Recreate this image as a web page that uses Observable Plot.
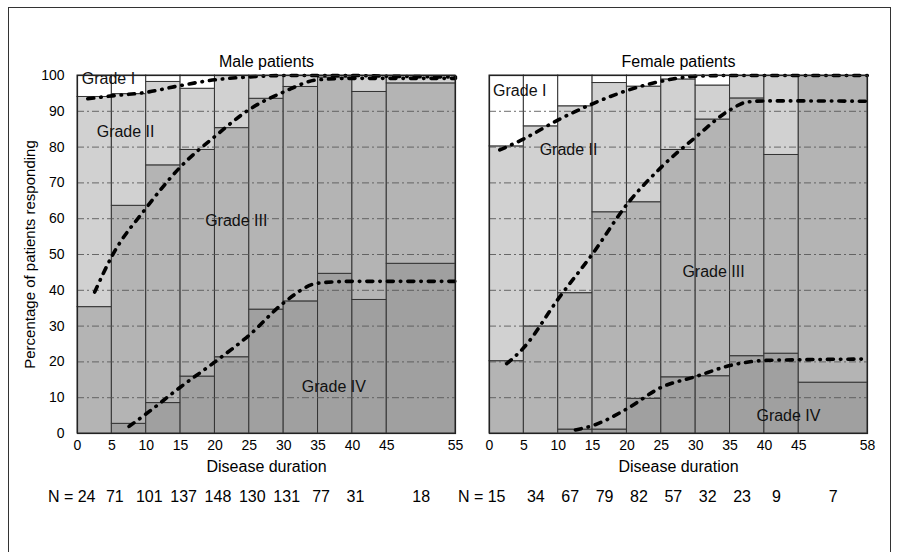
<!DOCTYPE html>
<html><head><meta charset="utf-8">
<script src="https://cdn.jsdelivr.net/npm/d3@7"></script>
<script src="https://cdn.jsdelivr.net/npm/@observablehq/plot@0.6"></script>
<style>
body{margin:0;background:#fff;font-family:"Liberation Sans",Arial,sans-serif;}
#wrap{position:relative;width:898px;height:552px;overflow:hidden;background:#fff;}
#border{position:absolute;left:8px;top:7px;width:883px;height:620px;border:1px solid #333;box-sizing:border-box;}
#male{position:absolute;left:0;top:0;}
#female{position:absolute;left:470px;top:0;}
</style></head>
<body><div id="wrap"><div id="border"></div><div id="male"></div><div id="female"></div></div>
<script>
// ---- data ----
const binEdges = [0, 5, 10, 15, 20, 25, 30, 35, 40, 45, 55];
const maleTickLabels = ["0","5","10","15","20","25","30","35","40","45","55"];
const femaleTickLabels = ["0","5","10","15","20","25","30","35","40","45","58"];
const yTicks = [0, 10, 20, 30, 40, 50, 60, 70, 80, 90, 100];
const grades = ["Grade I", "Grade II", "Grade III", "Grade IV"];

// percentage of patients per grade, per duration bin
const maleGradeIV  = [0, 2.7, 8.5, 15.9, 21.3, 34.6, 36.9, 44.6, 37.3, 47.4];
const maleGradeIII = [35.3, 60.9, 66.4, 63.3, 64.0, 58.9, 59.9, 54.8, 58.1, 50.4];
const maleGradeII  = [58.7, 31.2, 23.3, 17.1, 14.7, 6.5, 3.2, 0.6, 4.6, 2.2];
const maleGradeI   = [6.0, 5.2, 1.8, 3.7, 0, 0, 0, 0, 0, 0];

const femaleGradeIV  = [0, 0, 1.1, 1.1, 9.7, 15.7, 16.0, 21.6, 22.3, 14.2];
const femaleGradeIII = [20.2, 29.9, 38.1, 60.7, 54.9, 63.5, 71.7, 72.0, 55.5, 85.8];
const femaleGradeII  = [60.0, 55.9, 52.2, 36.1, 32.3, 19.7, 9.5, 6.4, 22.2, 0];
const femaleGradeI   = [19.8, 14.2, 8.6, 2.1, 3.1, 1.1, 2.8, 0, 0, 0];

const maleN   = [24, 71, 101, 137, 148, 130, 131, 77, 31, 18];
const femaleN = [15, 34, 67, 79, 82, 57, 32, 23, 9, 7];

// fitted (dash-dot) curves: cumulative boundaries
const maleFitI   = [[1.5,93.5],[5,94.3],[10,95.3],[15,97.2],[20,98.8],[25,99.6],[30,100],[35,100],[40,100],[45,99.8],[55,99.6]];
const maleFitII  = [[2.5,39.5],[5,49.5],[10,63],[15,74.5],[20,83],[25,90.5],[30,95.4],[35,98.8],[40,99.2],[45,99.2],[55,99.2]];
const maleFitIII = [[7.5,2],[10,5.5],[15,13],[20,20],[25,27.5],[30,36.5],[35,42],[40,42.5],[45,42.5],[55,42.5]];

const femaleFitI   = [[1.5,79.2],[5,82.3],[10,87.6],[15,92.1],[20,95.8],[25,98.4],[30,99.8],[35,100],[45,100],[55,100]];
const femaleFitII  = [[2.5,19.5],[5,24],[10,37.6],[15,50.2],[20,64],[25,74.4],[30,82.8],[35,90.4],[37.5,92.6],[40,92.9],[45,92.9],[55,92.8]];
const femaleFitIII = [[12.5,1],[15,2.2],[20,6.9],[25,12.9],[30,15.9],[35,19],[40,20.4],[45,20.6],[55,20.8]];

// label annotations (data coordinates)
const maleLabels = [
  {x: 4.5, y: 99, text: "Grade I"},
  {x: 7.0, y: 84.2, text: "Grade II"},
  {x: 23.1, y: 59.5, text: "Grade III"},
  {x: 37.3, y: 12.9, text: "Grade IV"}
];
const femaleLabels = [
  {x: 4.4, y: 95.6, text: "Grade I"},
  {x: 11.5, y: 79.2, text: "Grade II"},
  {x: 32.6, y: 45.1, text: "Grade III"},
  {x: 43.5, y: 5.0, text: "Grade IV"}
];

// ---- drawing ----
const gradeColors = ["#ffffff", "#d1d1d1", "#b4b4b4", "#a0a0a0"];
const FONT = "Liberation Sans, Arial, Helvetica, sans-serif";

function buildRects(I, II, III, IV) {
  const out = [];
  for (let i = 0; i < binEdges.length - 1; i++) {
    let cum = 0;
    const stack = [["Grade IV", IV[i]], ["Grade III", III[i]], ["Grade II", II[i]], ["Grade I", I[i]]];
    for (const [g, v] of stack) {
      if (v > 0) out.push({x1: binEdges[i], x2: binEdges[i + 1], y1: cum, y2: cum + v, grade: g});
      cum += v;
    }
  }
  return out;
}

function panel(opts) {
  const {rects, fits, labels, tickLabels, ns, nDx, firstDx, title, showY, width, marginLeft, marginRight} = opts;
  const labelMap = new Map(binEdges.map((d, i) => [d, tickLabels[i]]));
  const nData = ns.map((n, i) => {
    const x0 = binEdges[i], x1 = binEdges[i + 1];
    const wide = (x1 - x0) > 5;
    return {x: wide ? (x0 + x1) / 2 : x0, n: String(n), first: i === 0, wide};
  });
  const fitLines = fits.map(pts => Plot.line(pts, {
    x: d => d[0], y: d => d[1], curve: "monotone-x",
    stroke: "#000", strokeWidth: 3.6, strokeDasharray: "6,7,0.5,7", strokeLinecap: "round"
  }));
  return Plot.plot({
    width, height: 520,
    marginLeft, marginRight, marginTop: 75, marginBottom: 87,
    style: {fontFamily: FONT, fontSize: "14px", color: "#000", background: "transparent", overflow: "visible"},
    x: {domain: [0, 55], axis: null},
    y: {domain: [0, 100], axis: null},
    color: {domain: grades, range: gradeColors},
    marks: [
      Plot.rect(rects, {x1: "x1", x2: "x2", y1: "y1", y2: "y2", fill: "grade", stroke: "#333", strokeWidth: 1}),
      Plot.ruleY(yTicks.filter(d => d > 0 && d < 100), {stroke: "#555", strokeWidth: 1, strokeDasharray: "7,3,2,3", strokeOpacity: 0.85}),
      ...fitLines,
      Plot.text(labels, {x: "x", y: "y", text: "text", fontSize: 16, fill: "#111"}),
      Plot.frame({stroke: "#222", strokeWidth: 1.2}),
      Plot.axisX({ticks: binEdges, tickFormat: d => labelMap.get(d), tickSize: 0, tickPadding: 7, fontSize: 14, label: null}),
      showY ? Plot.axisY({ticks: yTicks, tickSize: 0, tickPadding: 13, fontSize: 14, label: null}) : null,
      showY ? Plot.text(["Percentage of patients responding"], {frameAnchor: "left", dx: -47, rotate: -90, textAnchor: "middle", fontSize: 15}) : null,
      Plot.text([title], {frameAnchor: "top", dy: -20, fontSize: 16}),
      Plot.text(["Disease duration"], {frameAnchor: "bottom", dy: 38, fontSize: 16}),
      Plot.text(nData.filter(d => d.first), {x: "x", text: d => "N = " + d.n, frameAnchor: "bottom", dy: 68, dx: firstDx, textAnchor: "end", fontSize: 16}),
      Plot.text(nData.filter(d => !d.first && !d.wide), {x: "x", text: "n", frameAnchor: "bottom", dy: 68, dx: nDx, fontSize: 16}),
      Plot.text(nData.filter(d => d.wide), {x: "x", text: "n", frameAnchor: "bottom", dy: 68, fontSize: 16})
    ]
  });
}

document.getElementById("male").appendChild(panel({
  rects: buildRects(maleGradeI, maleGradeII, maleGradeIII, maleGradeIV),
  fits: [maleFitI, maleFitII, maleFitIII],
  labels: maleLabels, tickLabels: maleTickLabels, ns: maleN, nDx: 3, firstDx: 18,
  title: "Male patients", showY: true, width: 470, marginLeft: 77, marginRight: 15
}));
document.getElementById("female").appendChild(panel({
  rects: buildRects(femaleGradeI, femaleGradeII, femaleGradeIII, femaleGradeIV),
  fits: [femaleFitI, femaleFitII, femaleFitIII],
  labels: femaleLabels, tickLabels: femaleTickLabels, ns: femaleN, nDx: 12, firstDx: 16,
  title: "Female patients", showY: false, width: 428, marginLeft: 19, marginRight: 31
}));
</script>
</body></html>
